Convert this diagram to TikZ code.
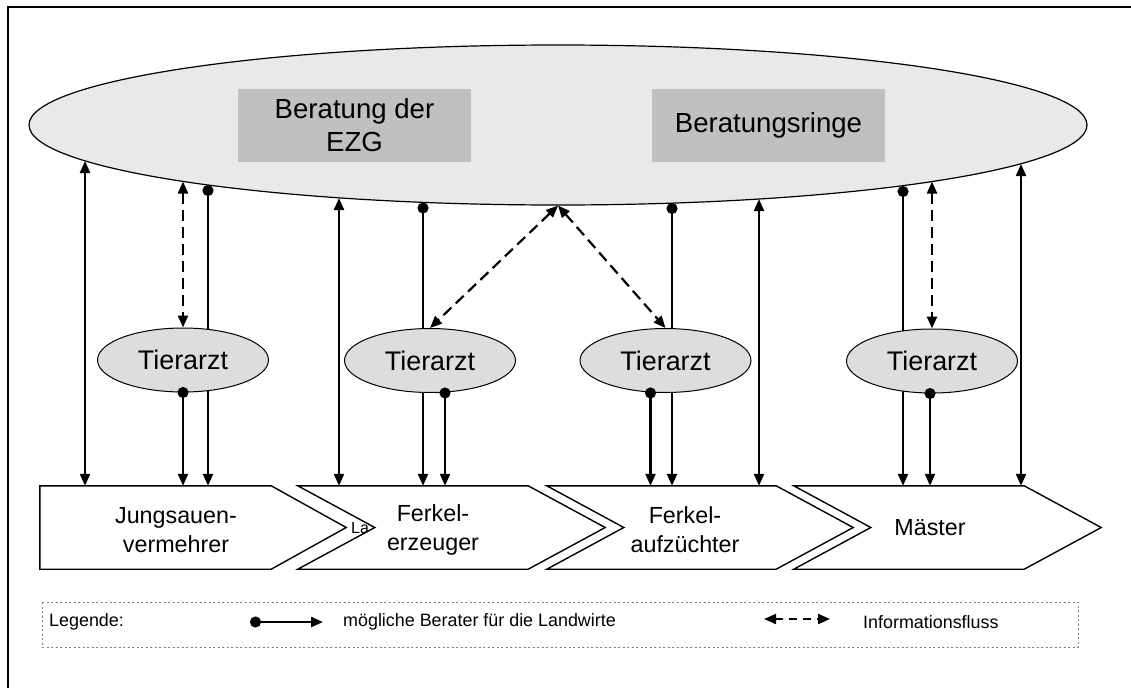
\documentclass[tikz,border=0pt]{standalone}
\usepackage{fontspec}
\setmainfont{Liberation Sans}
\usetikzlibrary{shapes.geometric,arrows.meta}
\definecolor{hellgrau}{RGB}{233,233,233}
\definecolor{mittelgrau}{RGB}{192,192,192}
\definecolor{tiergrau}{RGB}{221,221,221}
\tikzset{
  fliess/.style={line width=2.2pt,{Triangle[length=12pt,width=10pt]}-{Triangle[length=12pt,width=10pt]}},
  berater/.style={line width=2.2pt,{Circle[length=11pt]}-{Triangle[length=12pt,width=10pt]}},
  info/.style={line width=2.2pt,dash pattern=on 11pt off 6pt,{Triangle[length=12pt,width=10pt]}-{Triangle[length=12pt,width=10pt]}},
  tierarzt/.style={ellipse,draw,line width=1pt,fill=tiergrau,minimum width=171pt,minimum height=64pt,inner sep=0pt,font=\fontsize{26.9}{32}\selectfont},
  kasten/.style={fill=mittelgrau,minimum width=233pt,minimum height=73pt,align=center,font=\fontsize{27.6}{33}\selectfont},
  stufe/.style={minimum height=83pt,inner sep=0pt},
  stufelinie/.style={line width=1.4pt,fill=white},
  stufetext/.style={align=center,font=\fontsize{23.3}{29}\selectfont},
  legtext/.style={anchor=west,inner sep=0pt,font=\fontsize{17.9}{21}\selectfont}
}
\begin{document}
\begin{tikzpicture}[x=1pt,y=-1pt]
\useasboundingbox (0,0) rectangle (1131,688);
% Rahmen
\draw[line width=2.5pt] (1131,7) -- (8,7) -- (8,688);
% Beratung oben
\node[ellipse,draw,line width=1.2pt,fill=hellgrau,minimum width=1058pt,minimum height=160pt,inner sep=0pt] (oben) at (558,125) {};
\node[kasten] (ezg) at (354.5,125.5) {Beratung der\\EZG};
\node[kasten] (ringe) at (768.5,125.5) {Beratungsringe};
% Stufen der Kette
\node[stufe,minimum width=306pt] (s1) at (193,527.5) {};
\node[stufe,minimum width=307pt] (s2) at (451.5,527.5) {};
\node[stufe,minimum width=306pt] (s3) at (700,527.5) {};
\node[stufe,minimum width=307pt] (s4) at (947.5,527.5) {};
\draw[stufelinie] (s1.north west) -- ([xshift=-75pt]s1.north east) -- (s1.east) -- ([xshift=-75pt]s1.south east) -- (s1.south west) -- cycle;
\node[font=\fontsize{16}{18}\selectfont,inner sep=0pt] (la) at (360,528) {La};
\foreach \s in {s2,s3,s4}
  \draw[stufelinie] (\s.north west) -- ([xshift=-77pt]\s.north east) -- (\s.east) -- ([xshift=-77pt]\s.south east) -- (\s.south west) -- ([xshift=77pt]\s.west) -- cycle;
\node[stufetext] (l1) at (176,530) {Jungsauen-\\vermehrer};
\node[stufetext] (l2) at (433,530) {Ferkel-\\erzeuger};
\node[stufetext] (l3) at (685,530) {Ferkel-\\aufzüchter};
\node[stufetext] (l4) at (930,528) {Mäster};
% Berater direkt
\coordinate (b1) at (208,185);
\coordinate (b2) at (423,202.5);
\coordinate (b3) at (672,203);
\coordinate (b4) at (903,186);
\foreach \b/\s in {b1/s1,b2/s2,b3/s3,b4/s4}
  \draw[berater] (\b) -- (\b |- \s.north);
\coordinate (a1) at (85,161);
\coordinate (a2) at (339,198);
\coordinate (a3) at (759,199);
\coordinate (a4) at (1021,164);
\foreach \a/\s in {a1/s1,a2/s2,a3/s3,a4/s4}
  \draw[fliess] (\a) -- (\a |- \s.north);
% Tieraerzte
\node[tierarzt] (t1) at (183,360) {Tierarzt};
\node[tierarzt] (t2) at (430,360.5) {Tierarzt};
\node[tierarzt] (t3) at (665.5,360.5) {Tierarzt};
\node[tierarzt] (t4) at (932,361) {Tierarzt};
\coordinate (i1) at (183,181.5);
\coordinate (i4) at (932,181.5);
\draw[info] (i1) -- (t1.north);
\draw[info] (i4) -- (t4.north);
\draw[info] (oben.south) -- (t2.north);
\draw[info] (oben.south) -- (t3.north);
\coordinate (d1) at (t1.south);
\coordinate (d2) at ([xshift=15pt]t2.south);
\coordinate (d3) at ([xshift=-15pt]t3.south);
\coordinate (d4) at ([xshift=-2pt]t4.south);
\foreach \d/\s in {d1/s1,d2/s2,d3/s3,d4/s4}
  \draw[berater] ([yshift=5.5pt]\d) -- (\d |- \s.north);
% Legende
\draw[gray,line width=0.8pt,dash pattern=on 2pt off 2.5pt] (42,602) rectangle (1078,647);
\node[legtext] (leg) at (49,622) {Legende:};
\node[legtext] (ber) at (343,622) {mögliche Berater für die Landwirte};
\node[legtext] (inf) at (863,622) {Informationsfluss};
\draw[berater] ([xshift=-93pt]ber.west) -- ([xshift=-20pt]ber.west);
\draw[info,dash pattern=on 8pt off 6pt] ([xshift=-99pt,yshift=3pt]inf.west) -- ([xshift=-33pt,yshift=3pt]inf.west);
\end{tikzpicture}
\end{document}
